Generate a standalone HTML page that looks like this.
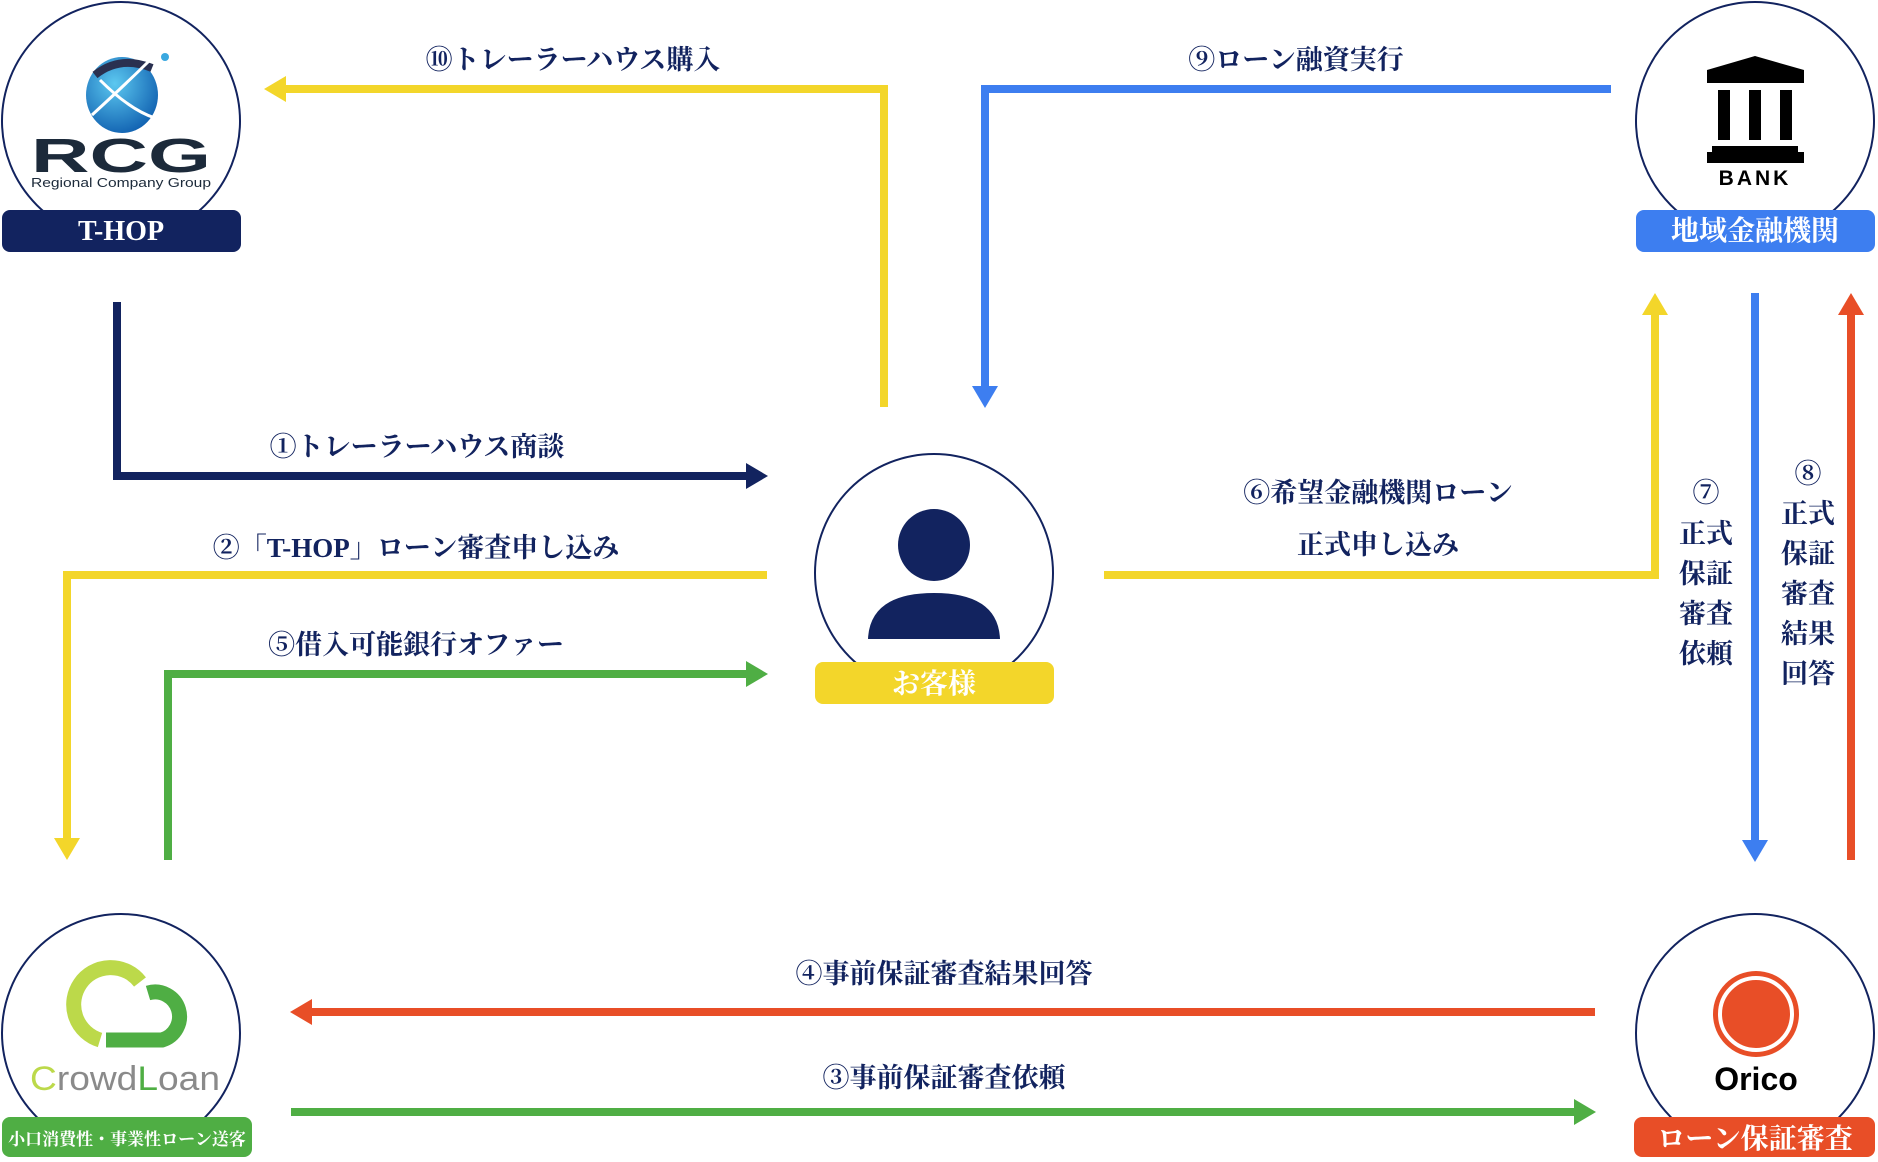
<!DOCTYPE html>
<html><head><meta charset="utf-8"><style>
html,body{margin:0;padding:0;background:#fff;}
svg{display:block;}
.l{font-family:"Liberation Serif","Noto Serif CJK JP","Noto Serif CJK SC",serif;font-weight:bold;fill:#12235f;font-size:27px;}
.w{font-family:"Liberation Serif","Noto Serif CJK JP","Noto Serif CJK SC",serif;font-weight:bold;fill:#fff;font-size:28px;}
</style></head><body>
<svg width="1878" height="1162" viewBox="0 0 1878 1162" xmlns="http://www.w3.org/2000/svg">
<g fill="none" stroke-width="8" stroke-linejoin="miter">
<polyline points="117,302 117,476 750,476" stroke="#12235f"/>
<polyline points="884,407 884,89 284,89" stroke="#f3d62a"/>
<polyline points="1611,89 985,89 985,388" stroke="#3d7ef0"/>
<polyline points="767,575 67,575 67,840" stroke="#f3d62a"/>
<polyline points="168,860 168,674 750,674" stroke="#4fae44"/>
<polyline points="1104,575 1655,575 1655,312" stroke="#f3d62a"/>
<line x1="1755" y1="293" x2="1755" y2="842" stroke="#3d7ef0"/>
<line x1="1851" y1="860" x2="1851" y2="312" stroke="#e84e27"/>
<line x1="1595" y1="1012" x2="310" y2="1012" stroke="#e84e27"/>
<line x1="291" y1="1112" x2="1576" y2="1112" stroke="#4fae44"/>
</g>
<g>
<polygon points="768,476 746,463 746,489" fill="#12235f"/>
<polygon points="264,89 286,76 286,102" fill="#f3d62a"/>
<polygon points="985,408 972,386 998,386" fill="#3d7ef0"/>
<polygon points="67,860 54,838 80,838" fill="#f3d62a"/>
<polygon points="768,674 746,661 746,687" fill="#4fae44"/>
<polygon points="1655,293 1642,315 1668,315" fill="#f3d62a"/>
<polygon points="1755,862 1742,840 1768,840" fill="#3d7ef0"/>
<polygon points="1851,293 1838,315 1864,315" fill="#e84e27"/>
<polygon points="290,1012 312,999 312,1025" fill="#e84e27"/>
<polygon points="1596,1112 1574,1099 1574,1125" fill="#4fae44"/>
</g>
<text class="l" x="573" y="69" text-anchor="middle">⑩トレーラーハウス購入</text>
<text class="l" x="1296" y="69" text-anchor="middle">⑨ローン融資実行</text>
<text class="l" x="417" y="456" text-anchor="middle">①トレーラーハウス商談</text>
<text class="l" x="416" y="557" text-anchor="middle">②「T-HOP」ローン審査申し込み</text>
<text class="l" x="416" y="654" text-anchor="middle">⑤借入可能銀行オファー</text>
<text class="l" x="1378" y="502" text-anchor="middle">⑥希望金融機関ローン</text>
<text class="l" x="1378" y="554" text-anchor="middle">正式申し込み</text>
<text class="l" x="944" y="983" text-anchor="middle">④事前保証審査結果回答</text>
<text class="l" x="944" y="1087" text-anchor="middle">③事前保証審査依頼</text>
<g class="l" text-anchor="middle">
<text x="1706" y="502">⑦</text><text x="1706" y="543">正式</text><text x="1706" y="583">保証</text><text x="1706" y="623">審査</text><text x="1706" y="663">依頼</text>
<text x="1808" y="483">⑧</text><text x="1808" y="523">正式</text><text x="1808" y="563">保証</text><text x="1808" y="603">審査</text><text x="1808" y="643">結果</text><text x="1808" y="683">回答</text>
</g>
<g fill="#fff" stroke="#12235f" stroke-width="2">
<circle cx="121" cy="121" r="119"/>
<circle cx="1755" cy="121" r="119"/>
<circle cx="934" cy="573" r="119"/>
<circle cx="121" cy="1033" r="119"/>
<circle cx="1755" cy="1033" r="119"/>
</g>
<defs><radialGradient id="g1" cx="0.4" cy="0.35" r="0.7"><stop offset="0" stop-color="#5cc8f0"/><stop offset="1" stop-color="#1060b0"/></radialGradient></defs>
<ellipse cx="122" cy="95" rx="36" ry="38" fill="url(#g1)"/>
<path d="M95,75 Q120,55 152,68" stroke="#2a3050" stroke-width="8" fill="none"/>
<path d="M92,115 Q130,80 150,60 M100,80 Q130,110 155,118" stroke="#fff" stroke-width="3" fill="none"/>
<circle cx="165" cy="57" r="4" fill="#3aa8e0"/>
<text x="31" y="172" textLength="180" lengthAdjust="spacingAndGlyphs" font-family="Liberation Sans,sans-serif" font-weight="bold" font-size="48" fill="#1c2a3a">RCG</text>
<text x="121" y="187" text-anchor="middle" font-family="Liberation Sans,sans-serif" font-size="12.5" fill="#1c2a3a" textLength="180" lengthAdjust="spacingAndGlyphs">Regional Company Group</text>
<polygon points="1707,70 1755,56 1804,70 1804,83 1707,83" fill="#000"/>
<rect x="1718" y="90" width="12" height="50" fill="#000"/><rect x="1749" y="90" width="12" height="50" fill="#000"/><rect x="1780" y="90" width="12" height="50" fill="#000"/>
<rect x="1712" y="146" width="86" height="9" fill="#000"/><rect x="1707" y="152" width="97" height="11" fill="#000"/>
<text x="1755" y="185" text-anchor="middle" font-family="Liberation Sans,sans-serif" font-weight="bold" font-size="21" letter-spacing="3" fill="#000">BANK</text>
<circle cx="934" cy="545" r="36" fill="#12235f"/>
<path d="M868,639 Q870,593 934,593 Q998,593 1000,639 Z" fill="#12235f"/>
<path d="M140,982 A37,37 0 1 0 100,1040" stroke="#bcd94a" stroke-width="15" fill="none"/>
<path d="M148,993 A23,23 0 1 1 162,1040 L106,1040" stroke="#4fae44" stroke-width="15" fill="none"/>
<text x="30" y="1090" textLength="190" lengthAdjust="spacingAndGlyphs" font-family="Liberation Sans,sans-serif" font-size="34" fill="#8a8a8a"><tspan fill="#bcd94a">C</tspan>rowd<tspan fill="#4fae44">L</tspan>oan</text>
<circle cx="1756" cy="1014" r="43" fill="#e84e27"/>
<circle cx="1756" cy="1014" r="36" fill="none" stroke="#fff" stroke-width="4"/>
<text x="1756" y="1090" text-anchor="middle" font-family="Liberation Sans,sans-serif" font-weight="bold" font-size="32" fill="#000">Orico</text>
<rect x="2" y="210" width="239" height="42" rx="8" fill="#12235f"/>
<text class="w" x="121" y="240" text-anchor="middle">T-HOP</text>
<rect x="1636" y="210" width="239" height="42" rx="8" fill="#3d7ef0"/>
<text class="w" x="1755" y="240" text-anchor="middle">地域金融機関</text>
<rect x="815" y="662" width="239" height="42" rx="8" fill="#f3d62a"/>
<text class="w" x="934" y="693" text-anchor="middle">お客様</text>
<rect x="2" y="1117" width="250" height="40" rx="8" fill="#4fae44"/>
<text class="w" x="127" y="1145" text-anchor="middle" style="font-size:17px">小口消費性・事業性ローン送客</text>
<rect x="1634" y="1117" width="241" height="40" rx="8" fill="#e84e27"/>
<text class="w" x="1755" y="1148" text-anchor="middle">ローン保証審査</text>
</svg>
</body></html>
